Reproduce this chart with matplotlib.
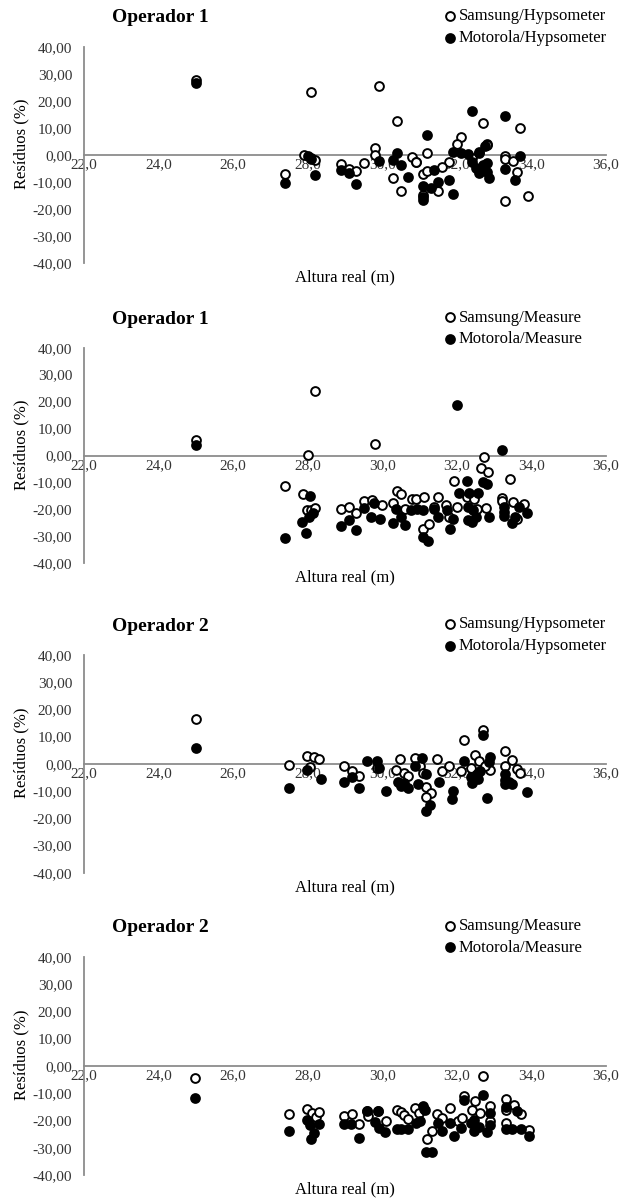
import matplotlib
matplotlib.use("Agg")
import matplotlib.pyplot as plt
from matplotlib.ticker import FuncFormatter, MultipleLocator

# ---- Operador 1, Hypsometer ----
o1_hyp_sam_x = [25.0, 28.1, 29.9, 30.4, 32.7, 33.7, 32.1, 32.0, 32.8, 29.8,
                31.2, 27.9, 29.8, 33.3, 33.3, 31.8, 28.1, 28.2, 28.9, 29.1,
                29.3, 29.5, 30.8, 30.9, 31.1, 31.2, 31.5, 30.5, 33.3, 33.9,
                27.4, 30.3, 30.9, 31.6, 32.8, 32.4, 33.5, 33.6, 32.6, 31.1]
o1_hyp_sam_y = [27.6, 23.4, 25.5, 12.4, 11.6, 9.9, 6.6, 4.1, 4.1, 2.7,
                0.7, 0.0, 0.0, -0.4, -1.6, -2.5, -1.2, -1.9, -3.4, -5.2,
                -5.8, -2.9, -0.9, -2.5, -7.2, -6.0, -13.3, -13.3, -17.0, -15.2,
                -7.1, -8.7, -2.5, -4.4, 3.7, -1.2, -2.1, -6.2, 0.8, -14.8]
o1_hyp_mot_x = [25.0, 32.4, 33.3, 31.2, 32.75, 31.9, 32.1, 30.4, 30.3, 30.5,
                30.7, 31.1, 31.3, 31.1, 31.1, 31.5, 31.8, 31.9, 29.3, 27.4,
                28.9, 29.1, 28.0, 28.1, 28.2, 32.6, 32.4, 32.5, 32.6, 32.7,
                32.8, 32.85, 32.8, 33.3, 33.7, 33.55, 31.4, 32.3, 29.9]
o1_hyp_mot_y = [26.4, 16.2, 14.4, 7.2, 3.4, 1.0, 0.6, 0.6, -1.9, -3.7,
                -8.3, -11.4, -12.2, -15.5, -16.8, -9.9, -9.3, -14.3, -10.9, -10.3,
                -5.6, -6.8, -0.5, -1.5, -7.5, 1.2, -2.5, -5.0, -6.8, -3.7,
                -6.2, -8.7, -3.1, -5.2, -0.4, -9.3, -5.6, 0.2, -2.3]

# ---- Operador 1, Measure ----
o1_mea_sam_x = [25.0, 28.2, 28.0, 29.8, 32.74, 32.64, 32.83, 33.43, 31.93, 27.4,
                27.87, 27.99, 28.1, 28.2, 28.9, 29.1, 29.3, 29.5, 29.72, 30.0,
                30.3, 30.39, 30.5, 30.6, 30.8, 30.9, 31.13, 31.1, 31.24, 31.5,
                31.4, 31.7, 32.0, 32.26, 32.46, 32.53, 32.78, 33.2, 33.22, 33.5,
                33.6, 33.8, 31.8]
o1_mea_sam_y = [5.8, 24.1, 0.2, 4.4, -0.4, -4.5, -6.3, -8.8, -9.3, -11.3,
                -14.3, -20.3, -20.1, -19.4, -19.9, -19.2, -21.3, -16.8, -16.5, -18.4,
                -17.5, -13.2, -14.2, -20.0, -16.3, -16.3, -15.3, -27.4, -25.6, -15.5,
                -19.0, -18.4, -19.0, -15.5, -16.3, -19.8, -19.3, -15.9, -16.9, -17.4,
                -23.6, -18.1, -23.0]
o1_mea_mot_x = [25.0, 32.0, 33.2, 32.27, 32.7, 32.8, 32.05, 32.33, 32.56, 28.06,
                27.85, 27.95, 27.38, 28.03, 28.14, 28.88, 29.1, 29.3, 29.5, 29.77,
                29.7, 29.95, 30.3, 30.38, 30.5, 30.6, 30.76, 30.94, 31.08, 31.1,
                31.22, 31.4, 31.5, 31.74, 31.82, 31.9, 32.3, 32.4, 32.5, 32.85,
                33.26, 33.26, 33.26, 33.47, 33.56, 33.67, 33.87, 32.3, 32.44]
o1_mea_mot_y = [3.8, 18.8, 2.1, -9.3, -9.7, -10.6, -13.8, -14.1, -14.1, -14.9,
                -24.6, -28.6, -30.6, -22.9, -21.5, -26.2, -24.0, -27.5, -19.3, -17.5,
                -23.0, -23.4, -25.2, -19.7, -22.8, -25.9, -20.3, -20.0, -20.3, -30.2,
                -31.7, -20.0, -23.0, -20.3, -27.4, -23.4, -24.0, -24.6, -22.8, -23.0,
                -20.9, -22.5, -19.2, -25.0, -23.0, -19.2, -21.3, -19.2, -20.4]

# ---- Operador 2, Hypsometer ----
o2_hyp_sam_x = [25.0, 27.5, 27.97, 28.18, 28.31, 28.07, 28.98, 29.19, 29.38, 29.87,
                30.47, 30.58, 30.69, 30.36, 30.88, 31.02, 31.1, 31.18, 31.31, 31.18,
                31.48, 31.59, 31.8, 32.11, 32.2, 32.38, 32.49, 32.6, 32.69, 32.9,
                32.76, 33.29, 33.29, 33.49, 33.6, 33.69]
o2_hyp_sam_y = [16.4, -0.5, 2.9, 2.6, 1.7, -1.0, -0.7, -2.8, -4.5, -1.5,
                1.6, -3.4, -4.4, -2.3, 2.1, -0.7, -3.4, -8.6, -10.7, -12.3,
                1.7, -2.5, -0.7, -2.6, 8.9, -1.5, 3.1, 1.1, 12.5, -2.2,
                -0.7, 4.9, -0.7, 1.3, -2.0, -3.4]
o2_hyp_mot_x = [25.0, 27.5, 27.97, 28.35, 28.98, 29.19, 29.38, 29.6, 29.87, 29.9,
                30.09, 30.42, 30.5, 30.58, 30.69, 30.89, 31.07, 30.96, 31.18, 31.18,
                31.29, 31.51, 31.89, 31.87, 32.19, 32.38, 32.41, 32.55, 32.62, 32.58,
                32.69, 32.8, 32.9, 32.87, 33.29, 33.29, 33.4, 33.47, 33.89, 33.28]
o2_hyp_mot_y = [5.8, -8.9, -2.1, -5.5, -6.6, -4.9, -8.8, 0.9, 1.2, -1.6,
                -10.0, -6.5, -8.0, -7.0, -8.8, -0.7, 2.0, -7.5, -3.9, -17.4,
                -15.1, -6.5, -10.0, -12.9, 1.1, -4.9, -7.1, -3.9, -2.8, -5.5,
                10.7, -12.5, 2.7, 0.6, -3.9, -7.5, -6.5, -7.4, -10.2, -6.1]

# ---- Operador 2, Measure ----
o2_mea_sam_x = [24.98, 27.49, 27.97, 28.12, 28.22, 28.31, 28.97, 29.19, 29.38, 29.6,
                29.62, 29.88, 30.1, 30.39, 30.49, 30.59, 30.68, 30.88, 30.99, 31.11,
                31.2, 31.32, 31.48, 31.61, 31.81, 32.03, 32.13, 32.19, 32.41, 32.48,
                32.63, 32.7, 32.9, 32.9, 33.31, 33.31, 33.52, 33.71, 33.93, 33.32]
o2_mea_sam_y = [-4.3, -17.6, -15.7, -17.3, -18.5, -17.0, -18.3, -17.7, -21.2, -16.6,
                -18.3, -16.6, -20.1, -16.1, -17.0, -17.9, -19.5, -15.4, -17.3, -15.9,
                -26.8, -23.8, -17.6, -19.1, -15.4, -20.1, -19.0, -11.0, -16.1, -12.8,
                -17.1, -3.5, -14.5, -20.0, -12.2, -20.7, -14.4, -17.6, -23.4, -16.1]
o2_mea_mot_x = [24.98, 27.49, 27.97, 28.08, 28.17, 28.31, 28.06, 28.97, 29.16, 29.38,
                29.6, 29.88, 29.81, 29.92, 30.08, 30.39, 30.49, 30.68, 30.9, 31.01,
                31.1, 31.15, 31.17, 31.32, 31.5, 31.61, 31.81, 31.92, 32.1, 32.19,
                32.37, 32.46, 32.46, 32.59, 32.7, 32.9, 32.81, 32.9, 33.31, 33.31,
                33.49, 33.6, 33.71, 33.93]
o2_mea_mot_y = [-11.6, -23.7, -19.8, -26.8, -24.6, -21.3, -21.6, -21.3, -21.3, -26.2,
                -16.6, -16.6, -20.6, -22.7, -24.0, -23.2, -23.2, -23.2, -20.7, -20.1,
                -14.5, -16.1, -31.3, -31.3, -21.0, -23.7, -21.0, -25.6, -22.6, -12.4,
                -21.0, -23.7, -19.8, -22.2, -10.6, -17.1, -24.3, -21.6, -15.1, -23.2,
                -23.2, -16.5, -23.2, -25.6]

panels = [
    ("Operador 1", "Samsung/Hypsometer", "Motorola/Hypsometer",
     o1_hyp_sam_x, o1_hyp_sam_y, o1_hyp_mot_x, o1_hyp_mot_y),
    ("Operador 1", "Samsung/Measure", "Motorola/Measure",
     o1_mea_sam_x, o1_mea_sam_y, o1_mea_mot_x, o1_mea_mot_y),
    ("Operador 2", "Samsung/Hypsometer", "Motorola/Hypsometer",
     o2_hyp_sam_x, o2_hyp_sam_y, o2_hyp_mot_x, o2_hyp_mot_y),
    ("Operador 2", "Samsung/Measure", "Motorola/Measure",
     o2_mea_sam_x, o2_mea_sam_y, o2_mea_mot_x, o2_mea_mot_y),
]

plt.rcParams.update({
    "font.family": ["Liberation Serif", "DejaVu Serif"],
    "font.size": 11,
})

W, H = 638, 1198
fig = plt.figure(figsize=(W / 100, H / 100), dpi=100)

# axes boxes in pixels: (top of the 40 tick, bottom of the -40 tick)
AX_LEFT, AX_RIGHT = 84, 606
panel_px = [(46.7, 263.0), (347.7, 563.3), (655.0, 872.7), (956.7, 1175.3)]

GREY = "#8c8c8c"
TICK_COLOR = "#333333"

for (title, lab_s, lab_m, sx, sy, mx, my), (top, bot) in zip(panels, panel_px):
    ax = fig.add_axes([AX_LEFT / W, 1 - bot / H, (AX_RIGHT - AX_LEFT) / W, (bot - top) / H])
    ax.set_xlim(22, 36)
    ax.set_ylim(-40, 40)

    ax.scatter(sx, sy, s=40, facecolors="white", edgecolors="black",
               linewidths=1.4, label=lab_s, zorder=3, clip_on=False)
    ax.scatter(mx, my, s=40, facecolors="black", edgecolors="black",
               linewidths=1.4, label=lab_m, zorder=4, clip_on=False)

    for side in ("top", "right"):
        ax.spines[side].set_visible(False)
    ax.spines["bottom"].set_position(("data", 0))
    ax.spines["bottom"].set_color(GREY)
    ax.spines["left"].set_color(GREY)
    ax.spines["bottom"].set_linewidth(1.3)
    ax.spines["left"].set_linewidth(1.3)

    ax.xaxis.set_major_locator(MultipleLocator(2))
    ax.yaxis.set_major_locator(MultipleLocator(10))
    ax.xaxis.set_major_formatter(FuncFormatter(lambda v, p: f"{v:.1f}".replace(".", ",")))
    ax.yaxis.set_major_formatter(FuncFormatter(lambda v, p: f"{v:.2f}".replace(".", ",")))
    ax.tick_params(axis="x", length=0, pad=2.5, labelsize=11, colors=TICK_COLOR)
    ax.tick_params(axis="y", length=0, pad=8.5, labelsize=11, colors=TICK_COLOR)

    ax.set_xlabel("Altura real (m)", fontsize=12)
    ax.xaxis.set_label_coords(0.5, -0.03)
    ax.set_ylabel("Resíduos (%)", fontsize=12)
    ax.yaxis.set_label_coords(-0.105, 0.55)

    ax.text(0.053, 1.133, title, transform=ax.transAxes, fontsize=14,
            fontweight="bold", ha="left", va="center")

    ax.legend(loc="upper left", bbox_to_anchor=(0.688, 1.177), frameon=False,
              fontsize=12, borderpad=0, borderaxespad=0, handlelength=0.8,
              handletextpad=0.15, labelspacing=0.35, scatterpoints=1)

fig.savefig("out.png", dpi=100, facecolor="white")
